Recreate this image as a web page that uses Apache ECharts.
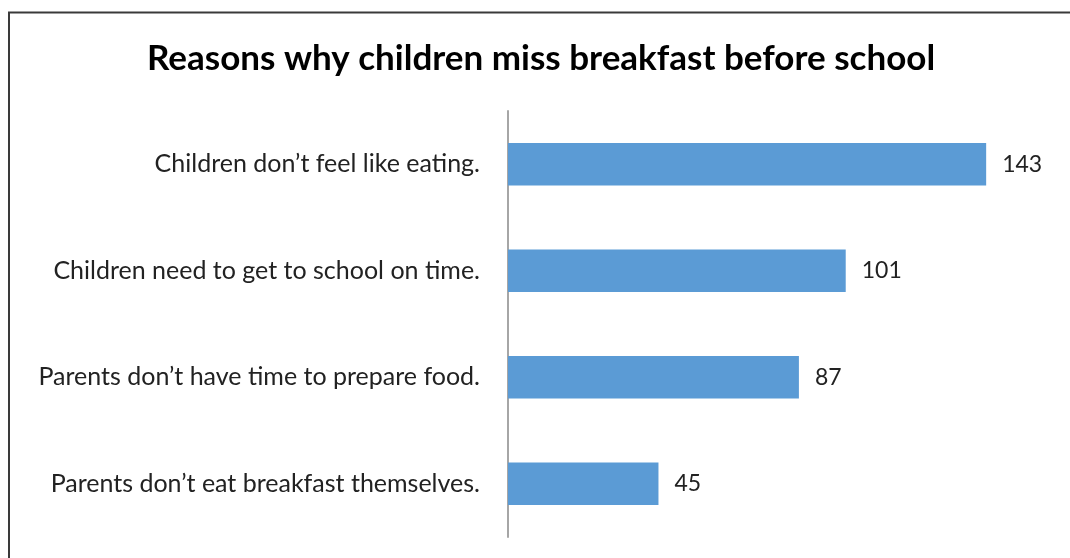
<!DOCTYPE html>
<html>
<head>
<meta charset="utf-8">
<script src="https://cdn.jsdelivr.net/npm/echarts@6/dist/echarts.min.js"></script>
<style>
  html, body { margin: 0; padding: 0; background: #fff; }
  #chart { width: 1070px; height: 558px; }
</style>
</head>
<body>
<div id="chart"></div>
<script>
// Survey answers, listed top to bottom as drawn
const reasons = [
  'Children don\u2019t feel like eating.',
  'Children need to get to school on time.',
  'Parents don\u2019t have time to prepare food.',
  'Parents don\u2019t eat breakfast themselves.'
];
const counts = [143, 101, 87, 45];

const titleText = 'Reasons why children miss breakfast before school';
const fontFamily = 'Lato, "Open Sans", sans-serif';

const chart = echarts.init(document.getElementById('chart'), null, { renderer: 'canvas' });

chart.setOption({
  animation: false,
  backgroundColor: '#ffffff',
  title: {
    text: titleText,
    left: 142,
    top: 36,
    textStyle: {
      fontFamily: fontFamily,
      fontWeight: 'bold',
      fontSize: 35,
      color: '#000000'
    }
  },
  graphic: [{
    type: 'rect',
    silent: true,
    shape: { x: 9, y: 12.5, width: 1200, height: 1000 },
    style: { fill: 'none', stroke: '#3a3a3a', lineWidth: 2 }
  }],
  grid: {
    left: 508,
    right: 27,
    top: 111,
    bottom: 21,
    containLabel: false
  },
  xAxis: {
    type: 'value',
    min: 0,
    max: 160,
    show: false
  },
  yAxis: {
    type: 'category',
    inverse: true,
    data: reasons,
    axisLine: { show: true, lineStyle: { color: '#a6a6a6', width: 2 } },
    axisTick: { show: false },
    axisLabel: {
      margin: 28,
      fontFamily: fontFamily,
      fontSize: 25,
      color: '#222222'
    }
  },
  series: [{
    type: 'bar',
    data: counts,
    barWidth: '40%',
    itemStyle: { color: '#5b9bd5' },
    label: {
      show: true,
      position: 'right',
      distance: 16,
      fontFamily: fontFamily,
      fontSize: 23,
      color: '#222222'
    }
  }]
});
</script>
</body>
</html>
